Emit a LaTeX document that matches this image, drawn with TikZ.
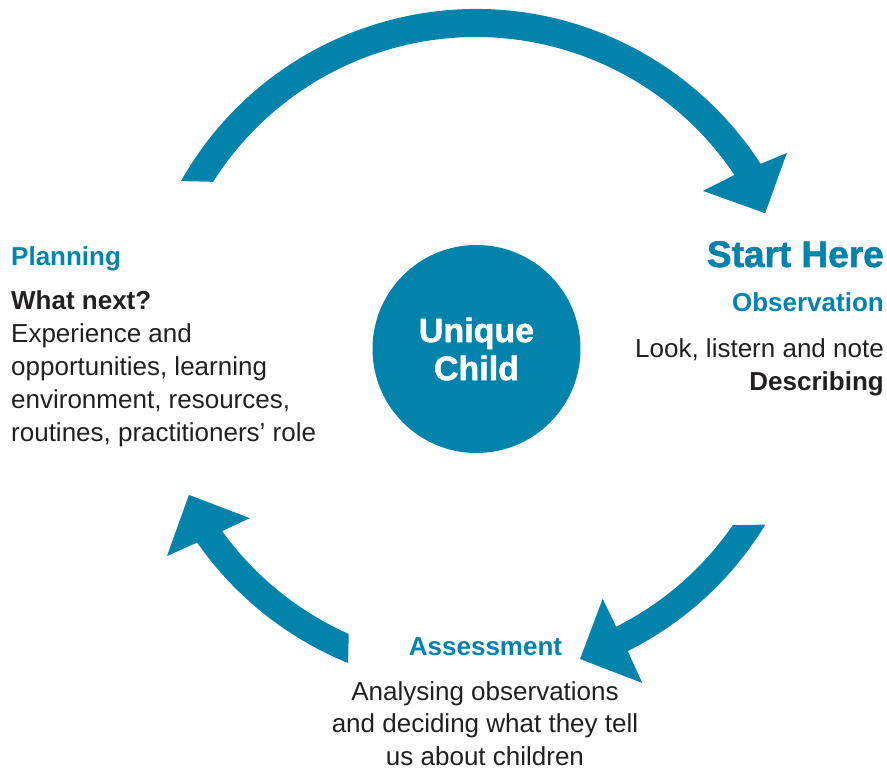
\documentclass[tikz,border=0pt]{standalone}
\usepackage{fontspec}
\setmainfont{Liberation Sans}
\newfontfamily\heavyfont{Liberation Sans}[BoldFeatures={FakeBold=1.5}]
\definecolor{ebblue}{RGB}{2,131,171}
\definecolor{ebtext}{RGB}{35,31,32}
\begin{document}
\begin{tikzpicture}[x=1pt,y=1pt,
  cyclearrow/.style={fill=ebblue, draw=none},
  headtext/.style={text=ebblue, font=\bfseries\fontsize{26}{33}\selectfont, inner sep=0pt},
  bodytext/.style={text=ebtext, font=\fontsize{26}{33}\selectfont, inner sep=0pt},
]
\useasboundingbox (0,0) rectangle (887,769);

% centre circle
\node[circle, fill=ebblue, minimum size=208pt, inner sep=0pt, align=center,
      text=white, font=\heavyfont\bfseries\fontsize{34}{38}\selectfont] (child) at (476.5,420) {Unique\\Child};

% cycle arrows
\begin{scope}[shift={(476,421)}]
  % top arrow: Planning -> Observation
  \fill[cyclearrow] (150.5:339) arc[start angle=150.5, end angle=32.9, radius=339]
     -- (32.1:367) -- (25:319) -- (34.7:276) -- (33.8:311)
     arc[start angle=33.8, end angle=147.7, radius=311] -- cycle;
  % right arrow: Observation -> Assessment
  \fill[cyclearrow] (-31.4:339) arc[start angle=-31.4, end angle=-63.4, radius=339]
     -- (-63.6:374) -- (-71.5:328) -- (-63.2:281) -- (-63.3:312)
     arc[start angle=-63.3, end angle=-34.6, radius=312] -- cycle;
  % left arrow: Assessment -> Planning
  \fill[cyclearrow] (247.9:340) arc[start angle=247.9, end angle=214.9, radius=340]
     -- (213.95:372.5) -- (207.1:322.5) -- (216.96:283) -- (215.8:313)
     arc[start angle=215.8, end angle=246, radius=313] -- cycle;
\end{scope}

% Planning
\node[headtext, anchor=base west] (plan) at (11,503) {Planning};
\node[bodytext, anchor=base west, align=left] (plantext) at (11,327)
  {\textbf{What next?}\\Experience and\\opportunities, learning\\environment, resources,\\routines, practitioners’ role};

% Observation
\node[headtext, font=\heavyfont\bfseries\fontsize{37}{40}\selectfont, anchor=base east] (start) at (884,502) {Start Here};
\node[headtext, anchor=base east] (obs) at (884,457) {Observation};
\node[bodytext, anchor=base east, align=right] (obstext) at (884,378.3)
  {Look, listern and note\\\textbf{Describing}};

% Assessment
\node[headtext, anchor=base] (assess) at (485.5,113) {Assessment};
\node[bodytext, anchor=base, align=center] (assesstext) at (485,3)
  {Analysing observations\\and deciding what they tell\\us about children};
\end{tikzpicture}
\end{document}
